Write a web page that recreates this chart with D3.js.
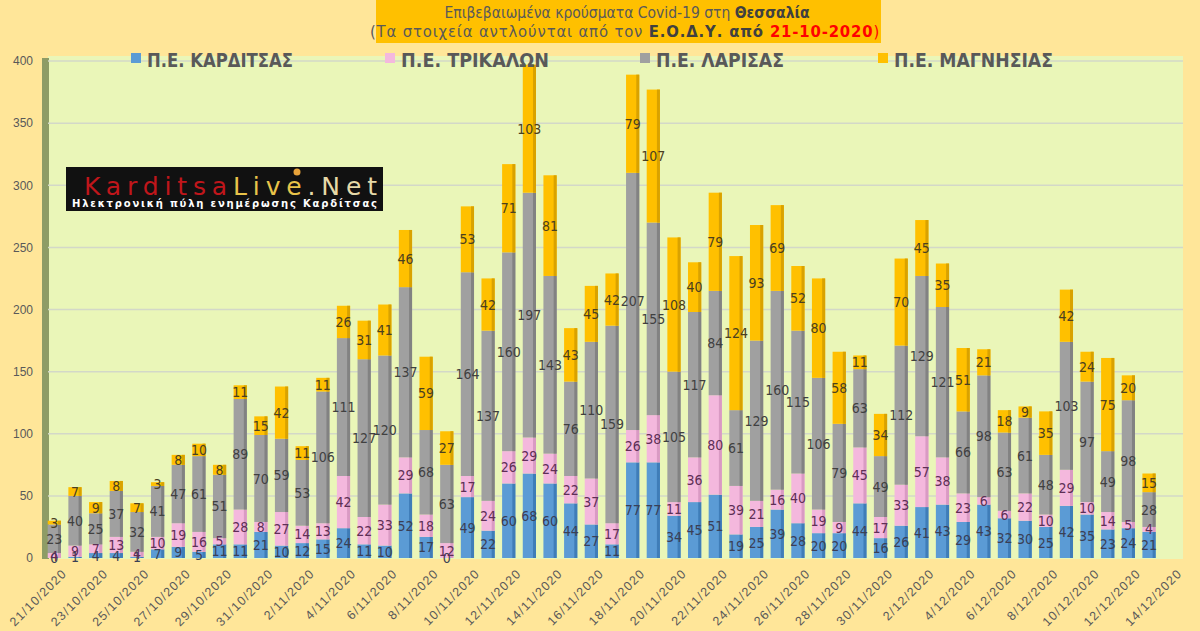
<!DOCTYPE html>
<html>
<head>
<meta charset="utf-8">
<script src="https://cdn.jsdelivr.net/npm/d3@7"></script>
<style>
  html, body { margin: 0; padding: 0; background: #FFE699; }
  svg { display: block; }
</style>
</head>
<body>
<svg id="chart" width="1200" height="631"></svg>
<script>
// ---------- DATA ----------
const dates = [
  "21/10/2020","22/10/2020","23/10/2020","24/10/2020","25/10/2020","26/10/2020","27/10/2020","28/10/2020","29/10/2020","30/10/2020","31/10/2020",
  "1/11/2020","2/11/2020","3/11/2020","4/11/2020","5/11/2020","6/11/2020","7/11/2020","8/11/2020","9/11/2020","10/11/2020",
  "11/11/2020","12/11/2020","13/11/2020","14/11/2020","15/11/2020","16/11/2020","17/11/2020","18/11/2020","19/11/2020","20/11/2020",
  "21/11/2020","22/11/2020","23/11/2020","24/11/2020","25/11/2020","26/11/2020","27/11/2020","28/11/2020","29/11/2020","30/11/2020",
  "1/12/2020","2/12/2020","3/12/2020","4/12/2020","5/12/2020","6/12/2020","7/12/2020","8/12/2020","9/12/2020","10/12/2020",
  "11/12/2020","12/12/2020","13/12/2020","14/12/2020"
];
const seriesNames = ["Π.Ε. ΚΑΡΔΙΤΣΑΣ", "Π.Ε. ΤΡΙΚΑΛΩΝ", "Π.Ε. ΛΑΡΙΣΑΣ", "Π.Ε. ΜΑΓΝΗΣΙΑΣ"];
const karditsa = [0,1,4,4,1,7,9,5,11,11,21,10,12,15,24,11,10,52,17,0,49,22,60,68,60,44,27,11,77,77,34,45,51,19,25,39,28,20,20,44,16,26,41,43,29,43,32,30,25,42,35,23,24,21];
const trikala  = [4,9,7,13,4,10,19,16,5,28,8,27,14,13,42,22,33,29,18,12,17,24,26,29,24,22,37,17,26,38,11,36,80,39,21,16,40,19,9,45,17,33,57,38,23,6,6,22,10,29,10,14,5,4];
const larisa   = [23,40,25,37,32,41,47,61,51,89,70,59,53,106,111,127,120,137,68,63,164,137,160,197,143,76,110,159,207,155,105,117,84,61,129,160,115,106,79,63,49,112,129,121,66,98,63,61,48,103,97,49,98,28];
const magnisia = [3,7,9,8,7,3,8,10,8,11,15,42,11,11,26,31,41,46,59,27,53,42,71,103,81,43,45,42,79,107,108,40,79,124,93,69,52,80,58,11,34,70,45,35,51,21,18,9,35,42,24,75,20,15];
const yTicks = [0,50,100,150,200,250,300,350,400];

// ---------- STYLE ----------
const colors = ["#5B9BD5", "#F4B8DD", "#A0A0A0", "#FFC000"];
const shades = ["#3F7DB8", "#D99AC3", "#828282", "#D9A200"];
const labelColors = ["#3A3F55", "#5E2F55", "#404040", "#4A3F20"];
const narrow = "'Liberation Sans Narrow', 'DejaVu Sans Condensed', 'Arial Narrow', sans-serif";

const svg = d3.select("#chart");
const W = 1200, H = 631;
const plot = { left: 48, right: 1183, top: 56, bottom: 559 };

svg.append("rect").attr("x", 0).attr("y", 0).attr("width", W).attr("height", H).attr("fill", "#FFE699");

// plot area
svg.append("rect").attr("x", plot.left).attr("y", plot.top)
  .attr("width", plot.right - plot.left).attr("height", plot.bottom - plot.top)
  .attr("fill", "#EAF6B8");

// left wall
svg.append("rect").attr("x", 42).attr("y", plot.top + 2).attr("width", 7).attr("height", plot.bottom - plot.top - 2)
  .attr("fill", "#8E9C66");

const x = d3.scaleBand().domain(dates).range([44, 1180]).paddingInner(0.36).paddingOuter(0.18);
const y = d3.scaleLinear().domain([0, 400]).range([558, 61]);

// gridlines
svg.append("g").selectAll("line").data(yTicks.filter(t => t > 0)).join("line")
  .attr("x1", plot.left).attr("x2", plot.right)
  .attr("y1", d => y(d)).attr("y2", d => y(d))
  .attr("stroke", "#D3D8C8").attr("stroke-width", 1.5);

// y axis labels
const yAxis = d3.axisLeft(y).tickValues(yTicks).tickSize(0).tickPadding(0);
const yg = svg.append("g").attr("transform", "translate(33,0)").call(yAxis);
yg.select(".domain").remove();
yg.selectAll("text").attr("font-family", "'Liberation Sans', Arial, sans-serif")
  .attr("font-size", 12).attr("fill", "#595959");

// stacked data
const rows = karditsa.map((k, i) => ({ date: dates[i], s0: k, s1: trikala[i], s2: larisa[i], s3: magnisia[i] }));
const stack = d3.stack().keys(["s0", "s1", "s2", "s3"])(rows);

const bw = x.bandwidth();
const barsG = svg.append("g");
stack.forEach((layer, si) => {
  const g = barsG.append("g");
  g.selectAll("rect.main").data(layer).join("rect").attr("class", "main")
    .attr("x", d => x(d.data.date)).attr("width", bw)
    .attr("y", d => y(d[1])).attr("height", d => y(d[0]) - y(d[1]))
    .attr("fill", colors[si]);
  g.selectAll("rect.shade").data(layer).join("rect").attr("class", "shade")
    .attr("x", d => x(d.data.date) + bw - 3).attr("width", 3)
    .attr("y", d => y(d[1])).attr("height", d => y(d[0]) - y(d[1]))
    .attr("fill", shades[si]);
});

// data labels
const labG = svg.append("g").attr("font-family", narrow).attr("font-size", 14).attr("text-anchor", "middle");
stack.forEach((layer, si) => {
  labG.append("g").selectAll("text").data(layer).join("text")
    .attr("x", d => x(d.data.date) + bw / 2)
    .attr("y", d => (y(d[0]) + y(d[1])) / 2)
    .attr("dy", "0.36em")
    .attr("fill", labelColors[si])
    .text(d => d[1] - d[0]);
});

// x axis labels (every other category)
const tickDates = dates.filter((d, i) => i % 2 === 0);
const xg = svg.append("g");
xg.selectAll("text").data(tickDates).join("text")
  .attr("transform", d => `translate(${x(d) + bw / 2 + 7},${568}) rotate(-45)`)
  .attr("text-anchor", "end")
  .attr("dy", "0.7em")
  .attr("font-family", "'Liberation Sans', Arial, sans-serif")
  .attr("font-size", 12.5)
  .attr("letter-spacing", 1.2)
  .attr("fill", "#595959")
  .text(d => d);

// title box
svg.append("rect").attr("x", 376).attr("y", 0).attr("width", 505).attr("height", 43).attr("fill", "#FFC000");
const t1 = svg.append("text").attr("x", 627).attr("y", 18).attr("text-anchor", "middle")
  .attr("font-family", narrow).attr("font-size", 15.5).attr("fill", "#595959");
t1.append("tspan").text("Επιβεβαιωμένα κρούσματα Covid-19 στη ");
t1.append("tspan").attr("font-weight", "bold").attr("fill", "#404040").text("Θεσσαλία");
const t2 = svg.append("text").attr("x", 625).attr("y", 37).attr("text-anchor", "middle")
  .attr("font-family", narrow).attr("font-size", 16.5).attr("letter-spacing", 0.85).attr("fill", "#595959");
t2.append("tspan").text("(Τα στοιχεία αντλούνται από τον ");
t2.append("tspan").attr("font-weight", "bold").attr("fill", "#404040").text("Ε.Ο.Δ.Υ. από ");
t2.append("tspan").attr("font-weight", "bold").attr("fill", "#FF0000").text("21-10-2020");
t2.append("tspan").attr("fill", "#FF0000").text(")");

// legend
const legendX = [131, 385, 640, 878];
const legendW = [146, 148, 128, 159];
const lg = svg.append("g");
seriesNames.forEach((name, i) => {
  lg.append("rect").attr("x", legendX[i]).attr("y", 53).attr("width", 10).attr("height", 10).attr("fill", colors[i]);
  lg.append("text").attr("x", legendX[i] + 16).attr("y", 67)
    .attr("font-family", narrow).attr("font-weight", "bold").attr("font-size", 20)
    .attr("textLength", legendW[i]).attr("lengthAdjust", "spacingAndGlyphs")
    .attr("fill", "#595959").text(name);
});

// logo
const logo = svg.append("g");
logo.append("rect").attr("x", 66).attr("y", 167).attr("width", 317).attr("height", 44).attr("fill", "#111111");
const lt = logo.append("text").attr("x", 84).attr("y", 195)
  .attr("font-family", "'DejaVu Sans', sans-serif").attr("font-size", 25)
  .attr("textLength", 293).attr("lengthAdjust", "spacing");
lt.append("tspan").attr("fill", "#C0161B").text("Karditsa");
lt.append("tspan").attr("fill", "#E8C34A").text("Live");
lt.append("tspan").attr("fill", "#E6D9A8").text(".Net");
logo.append("circle").attr("cx", 297).attr("cy", 172).attr("r", 3.5).attr("fill", "#E8A33A");
logo.append("text").attr("x", 72).attr("y", 207)
  .attr("font-family", "'DejaVu Sans', sans-serif").attr("font-weight", "bold").attr("font-size", 10)
  .attr("textLength", 305).attr("lengthAdjust", "spacing")
  .attr("fill", "#FFFFFF").text("Ηλεκτρονική πύλη ενημέρωσης Καρδίτσας");
</script>
</body>
</html>
